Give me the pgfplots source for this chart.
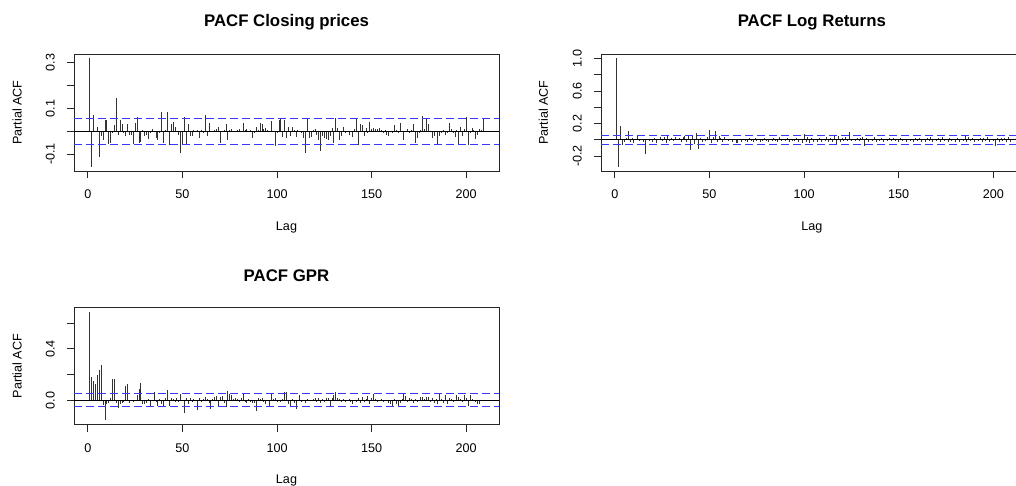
\documentclass[border=0pt]{standalone}
\usepackage{fontspec}
\setmainfont{Liberation Sans}
\usepackage{pgfplots}
\usepackage{pgfplotstable}
\pgfplotsset{compat=1.18}
\definecolor{rblue}{RGB}{55,55,255}
\newcommand{\tL}{\fontsize{12.6}{15}\selectfont}
\newcommand{\tT}{\fontsize{16.8}{20}\selectfont\bfseries}

% lag, PACF of closing prices, log returns, GPR
\pgfplotstableread{
lag close logret gpr
1 0.318 1.000 0.686
2 -0.155 -0.330 0.178
3 0.072 0.170 0.150
4 -0.005 -0.060 0.126
5 0.020 -0.030 0.200
6 -0.112 0.020 0.235
7 -0.020 0.110 0.273
8 -0.040 -0.030 -0.036
9 0.050 0.020 -0.155
10 0.048 -0.040 -0.025
11 -0.055 0.015 -0.020
12 -0.050 0.048 0.015
13 -0.010 -0.020 0.165
14 0.025 0.010 0.165
15 0.144 -0.030 -0.020
16 -0.015 -0.175 -0.060
17 0.050 0.015 -0.030
18 0.030 -0.020 -0.020
19 -0.010 0.005 -0.015
20 -0.020 -0.030 0.110
21 0.033 0.020 0.128
22 -0.015 -0.035 -0.020
23 -0.015 0.010 0.005
24 -0.055 0.040 -0.010
25 0.035 -0.020 0.005
26 0.062 0.030 0.040
27 -0.050 -0.040 0.088
28 -0.048 0.045 0.134
29 0.005 -0.010 -0.030
30 -0.020 0.025 -0.030
31 -0.015 -0.015 -0.020
32 -0.035 0.030 0.010
33 -0.010 0.010 -0.040
34 0.010 0.020 0.005
35 -0.005 -0.025 0.067
36 -0.030 0.040 -0.010
37 -0.040 0.050 -0.040
38 -0.010 -0.030 0.010
39 0.082 0.045 -0.030
40 -0.050 -0.120 -0.045
41 0.005 0.060 0.020
42 0.082 -0.050 0.080
43 -0.060 0.085 -0.040
44 0.030 -0.110 0.020
45 0.040 0.020 0.010
46 0.020 -0.030 -0.010
47 -0.005 0.010 0.020
48 -0.015 -0.020 -0.015
49 -0.096 0.030 0.050
50 -0.055 0.115 0.005
51 0.062 -0.040 -0.100
52 -0.058 0.030 0.020
53 0.030 0.110 -0.030
54 -0.020 -0.030 0.020
55 -0.020 0.050 -0.010
56 0.005 0.020 0.010
57 -0.005 -0.030 0.005
58 0.005 0.030 -0.075
59 -0.030 0.010 0.020
60 0.005 -0.020 -0.010
61 -0.010 0.015 0.010
62 0.070 -0.025 0.030
63 -0.020 0.010 0.010
64 0.035 -0.040 -0.020
65 -0.005 -0.035 -0.065
66 0.000 0.005 0.010
67 0.005 -0.030 0.030
68 0.010 0.015 0.035
69 0.020 -0.020 -0.040
70 -0.050 -0.030 0.030
71 0.000 0.020 0.035
72 0.005 -0.015 -0.020
73 0.030 -0.025 -0.050
74 -0.040 0.025 0.075
75 0.005 -0.020 0.050
76 0.010 0.010 0.040
77 -0.005 -0.030 0.010
78 0.002 -0.015 0.015
79 0.005 0.020 0.010
80 0.010 -0.010 -0.010
81 -0.005 -0.025 0.020
82 0.035 0.015 0.054
83 0.005 -0.020 -0.015
84 0.010 0.020 -0.020
85 -0.005 -0.010 0.010
86 0.005 -0.025 -0.015
87 -0.030 0.030 -0.020
88 -0.010 -0.015 -0.020
89 0.020 0.010 -0.080
90 0.005 -0.020 0.020
91 0.035 0.020 0.010
92 0.030 -0.030 0.020
93 0.010 0.010 -0.010
94 0.015 -0.015 -0.030
95 0.005 -0.020 0.005
96 -0.005 0.020 -0.050
97 0.043 -0.030 0.047
98 -0.005 0.015 0.010
99 -0.065 -0.040 0.020
100 -0.010 0.075 -0.010
101 0.050 -0.030 0.005
102 0.055 0.040 -0.015
103 -0.025 -0.040 0.010
104 0.050 0.020 0.068
105 -0.030 -0.030 0.065
106 0.020 0.015 -0.030
107 -0.020 -0.025 -0.040
108 0.020 0.020 0.010
109 0.005 -0.030 -0.020
110 -0.025 0.010 -0.064
111 0.005 -0.020 0.005
112 0.002 0.030 0.045
113 -0.010 -0.025 -0.010
114 -0.030 0.020 0.005
115 -0.096 -0.030 -0.020
116 0.058 0.057 0.010
117 -0.030 -0.065 -0.005
118 -0.025 0.050 0.000
119 0.005 -0.030 0.010
120 0.010 0.020 0.015
121 -0.015 -0.020 -0.010
122 -0.040 0.040 0.015
123 -0.085 -0.015 -0.020
124 -0.020 0.090 0.010
125 -0.030 -0.020 -0.015
126 -0.035 0.010 0.020
127 -0.040 -0.010 0.020
128 -0.020 0.020 -0.040
129 0.015 -0.005 0.020
130 -0.050 0.025 0.040
131 0.058 0.030 0.062
132 0.015 -0.078 0.020
133 -0.040 0.020 0.010
134 -0.020 -0.030 -0.010
135 0.020 0.010 0.010
136 -0.010 -0.020 -0.015
137 0.000 0.030 0.005
138 -0.015 -0.025 0.010
139 -0.005 0.015 -0.010
140 -0.025 -0.010 -0.030
141 0.010 0.020 0.005
142 0.055 -0.030 -0.010
143 -0.060 0.015 0.015
144 0.030 -0.020 -0.020
145 0.025 0.025 0.030
146 -0.020 -0.015 -0.010
147 0.015 0.020 0.010
148 -0.010 -0.020 0.036
149 0.040 0.010 -0.030
150 0.010 -0.025 0.020
151 0.012 0.020 0.046
152 0.008 -0.010 0.010
153 0.010 0.015 -0.010
154 0.015 -0.025 -0.005
155 0.005 0.010 0.010
156 -0.010 -0.020 -0.015
157 0.005 0.015 0.005
158 -0.015 -0.030 0.000
159 -0.020 0.020 -0.020
160 -0.005 -0.010 -0.030
161 -0.010 0.025 -0.040
162 0.026 -0.030 0.010
163 0.005 0.015 -0.030
164 -0.010 -0.025 -0.040
165 0.035 0.020 -0.020
166 0.000 -0.020 0.010
167 -0.040 0.035 0.050
168 -0.005 -0.030 0.035
169 0.010 0.010 -0.010
170 -0.010 -0.020 0.015
171 0.005 0.020 0.010
172 0.030 -0.025 -0.020
173 -0.050 0.030 0.010
174 -0.030 -0.015 -0.015
175 -0.010 0.015 0.005
176 0.005 -0.030 0.025
177 0.065 0.020 0.030
178 0.010 -0.020 0.010
179 0.058 0.010 0.025
180 0.030 -0.025 0.030
181 -0.005 0.020 -0.010
182 -0.030 -0.030 0.020
183 -0.020 0.015 -0.020
184 -0.005 -0.020 0.010
185 -0.058 0.057 -0.030
186 -0.020 -0.025 0.047
187 -0.010 0.030 0.010
188 0.005 -0.015 -0.020
189 -0.015 0.020 0.045
190 -0.010 -0.030 -0.030
191 0.035 0.015 0.015
192 0.010 -0.020 0.010
193 -0.010 0.025 -0.010
194 -0.025 -0.030 0.005
195 0.005 0.020 0.040
196 -0.055 -0.010 0.030
197 0.020 0.030 0.010
198 -0.020 -0.025 -0.010
199 0.010 0.015 0.045
200 0.062 -0.020 0.020
201 -0.060 -0.075 -0.040
202 -0.010 0.020 0.045
203 0.015 -0.030 0.010
204 0.005 0.025 0.005
205 -0.035 -0.015 -0.010
206 -0.015 0.020 -0.030
207 0.010 -0.030 -0.030
208 0.005 0.030 0.005
209 0.055 -0.030 0.000
}\pacf

\pgfplotsset{
  rpanel/.style={
    scale only axis, width=425pt, height=117pt,
    axis line style={black!85, line width=0.8pt},
    tick style={black!85, line width=0.8pt},
    tick align=outside, major tick length=7pt,
    xtick pos=left, ytick pos=left,
    xmin=-7.32, xmax=217.32,
    xtick={0,50,100,150,200}, xticklabels={0,50,100,150,200},
    tick label style={font=\tL},
    xticklabel style={anchor=north, inner ysep=12pt},
    yticklabel style={rotate=90, anchor=south, inner ysep=12pt},
    label style={font=\tL},
    xlabel={Lag}, ylabel={Partial ACF},
    xlabel style={at={(axis description cs:0.5,-0.48)}, anchor=center},
    ylabel style={at={(axis description cs:-0.134,0.5)}, anchor=center},
    title style={font=\tT, at={(axis description cs:0.5,1.29)}, anchor=center, yshift=-8pt},
  },
  spike/.style={ycomb, no marks, black!80, line width=0.75pt},
  zline/.style={black, line width=0.75pt},
  ci/.style={rblue, line width=0.9pt, dash pattern=on 8pt off 4pt},
}

\begin{document}
\begin{tikzpicture}
\path[use as bounding box] (0,0) rectangle (1016pt,486pt);

% ---------- closing prices ----------
\begin{axis}[rpanel, at={(74pt,432pt)}, anchor=north west,
  ymin=-0.174, ymax=0.337,
  ytick={-0.1,0,0.1,0.2,0.3}, yticklabels={-0.1,,0.1,,0.3},
  title={PACF Closing prices}]
\addplot[spike] table[x=lag, y=close] {\pacf};
\addplot[zline] coordinates {(-7.32,0) (217.32,0)};
\addplot[ci] coordinates {(-7.32,0.057) (217.32,0.057)};
\addplot[ci] coordinates {(-7.32,-0.057) (217.32,-0.057)};
\end{axis}

% ---------- log returns (panel runs off the right edge) ----------
\begin{axis}[rpanel, at={(601pt,432pt)}, anchor=north west,
  width=415pt, xmax=212.0,
  ymin=-0.383, ymax=1.053,
  ytick={-0.2,0,0.2,0.4,0.6,0.8,1.0}, yticklabels={-0.2,,0.2,,0.6,,1.0},
  ylabel style={at={(axis description cs:-0.139,0.5)}, anchor=center},
  xlabel style={at={(axis description cs:0.508,-0.48)}, anchor=center},
  title style={at={(axis description cs:0.508,1.29)}, anchor=center},
  title={PACF Log Returns}]
\addplot[spike] table[x=lag, y=logret] {\pacf};
\addplot[zline] coordinates {(-7.32,0) (217.32,0)};
\addplot[ci] coordinates {(-7.32,0.053) (217.32,0.053)};
\addplot[ci] coordinates {(-7.32,-0.053) (217.32,-0.053)};
\end{axis}

% ---------- GPR ----------
\begin{axis}[rpanel, at={(74pt,178.3pt)}, anchor=north west,
  ymin=-0.189, ymax=0.720,
  ytick={0,0.2,0.4,0.6}, yticklabels={0.0,,0.4,},
  title={PACF GPR}]
\addplot[spike] table[x=lag, y=gpr] {\pacf};
\addplot[zline] coordinates {(-7.32,0) (217.32,0)};
\addplot[ci] coordinates {(-7.32,0.05) (217.32,0.05)};
\addplot[ci] coordinates {(-7.32,-0.05) (217.32,-0.05)};
\end{axis}
\end{tikzpicture}
\end{document}
